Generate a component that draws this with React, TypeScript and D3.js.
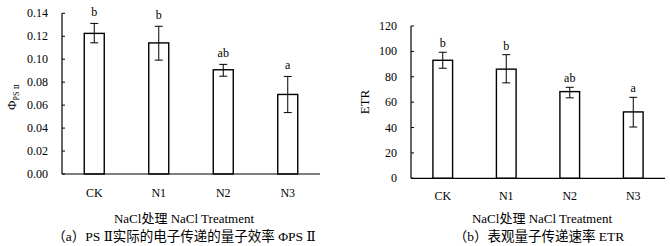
import React from "react";
import * as d3 from "d3";

const categories = ["CK", "N1", "N2", "N3"];
const phiValues = [0.1225, 0.1142, 0.0908, 0.0693];
const phiErrUp = [0.1312, 0.1287, 0.0955, 0.085];
const phiErrDown = [0.1143, 0.0992, 0.0852, 0.0535];
const phiLetters = ["b", "b", "ab", "a"];
const phiTicks = [0, 0.02, 0.04, 0.06, 0.08, 0.1, 0.12, 0.14];

const etrValues = [93.0, 86.0, 68.3, 52.3];
const etrErrUp = [99.3, 97.4, 71.7, 63.8];
const etrErrDown = [86.7, 75.2, 63.4, 40.4];
const etrLetters = ["b", "b", "ab", "a"];
const etrTicks = [0, 20, 40, 60, 80, 100, 120];

const FONT = "'Liberation Serif', 'DejaVu Serif', 'Noto Sans CJK SC', serif";

type PanelProps = {
  x0: number; x1: number; yTop: number; yBottom: number; max: number;
  values: number[]; up: number[]; down: number[]; letters: string[]; ticks: number[];
  fmt: (v: number) => string; catY: number; letterGap: number;
};

function Panel(p: PanelProps) {
  const x = d3.scaleBand<string>().domain(categories).range([p.x0, p.x1]).paddingInner(0.69).paddingOuter(0.345);
  const y = d3.scaleLinear().domain([0, p.max]).range([p.yBottom, p.yTop]);
  const bw = x.bandwidth();
  return (
    <g>
      {categories.map((c, i) => {
        const cx = (x(c) as number) + bw / 2;
        return (
          <g key={c}>
            <rect x={x(c)} y={y(p.values[i])} width={bw} height={p.yBottom - y(p.values[i])}
              fill="#fff" stroke="#000" strokeWidth={1.4} />
            <line x1={cx} x2={cx} y1={y(p.up[i])} y2={y(p.down[i])} stroke="#000" strokeWidth={1} />
            <line x1={cx - 4} x2={cx + 4} y1={y(p.up[i])} y2={y(p.up[i])} stroke="#000" strokeWidth={1} />
            <line x1={cx - 4} x2={cx + 4} y1={y(p.down[i])} y2={y(p.down[i])} stroke="#000" strokeWidth={1} />
            <text x={cx} y={y(p.up[i]) - p.letterGap} textAnchor="middle" fontSize={12}>{p.letters[i]}</text>
            <text x={cx} y={p.catY} textAnchor="middle" fontSize={12}>{c}</text>
          </g>
        );
      })}
      <line x1={p.x0} x2={p.x0} y1={p.yTop} y2={p.yBottom} stroke="#000" strokeWidth={1.2} />
      <line x1={p.x0} x2={p.x1} y1={p.yBottom} y2={p.yBottom} stroke="#000" strokeWidth={1.2} />
      {p.ticks.map((t) => (
        <g key={t}>
          <line x1={p.x0} x2={p.x0 + 3} y1={y(t)} y2={y(t)} stroke="#000" strokeWidth={1} />
          <text x={p.x0 - 14} y={y(t) + 4} textAnchor="end" fontSize={12}>{p.fmt(t)}</text>
        </g>
      ))}
    </g>
  );
}

export default function App() {
  return (
    <svg width={670} height={246} style={{ position: "absolute", left: 0, top: 0, background: "#fff", fontFamily: FONT }}>
      <rect width={670} height={246} fill="#fff" />
      <Panel x0={62} x1={320} yTop={13.3} yBottom={174} max={0.14} values={phiValues} up={phiErrUp}
        down={phiErrDown} letters={phiLetters} ticks={phiTicks} fmt={(v) => v.toFixed(2)} catY={197} letterGap={7} />
      <Panel x0={411} x1={665} yTop={26} yBottom={178.3} max={120} values={etrValues} up={etrErrUp}
        down={etrErrDown} letters={etrLetters} ticks={etrTicks} fmt={(v) => String(v)} catY={200} letterGap={5} />
      <text transform="translate(16,97) rotate(-90)" textAnchor="middle" fontSize={13}>
        Φ<tspan fontSize={8} dy={3}>PS Ⅱ</tspan>
      </text>
      <text transform="translate(369,102) rotate(-90)" textAnchor="middle" fontSize={13}>ETR</text>
      <text x={184} y={223} textAnchor="middle" fontSize={13}>NaCl处理 NaCl Treatment</text>
      <text x={542} y={223} textAnchor="middle" fontSize={13}>NaCl处理 NaCl Treatment</text>
      <text x={184} y={241} textAnchor="middle" fontSize={13.5}>（a）PS Ⅱ实际的电子传递的量子效率 ΦPS Ⅱ</text>
      <text x={539} y={241} textAnchor="middle" fontSize={13.5}>（b）表观量子传递速率 ETR</text>
    </svg>
  );
}
